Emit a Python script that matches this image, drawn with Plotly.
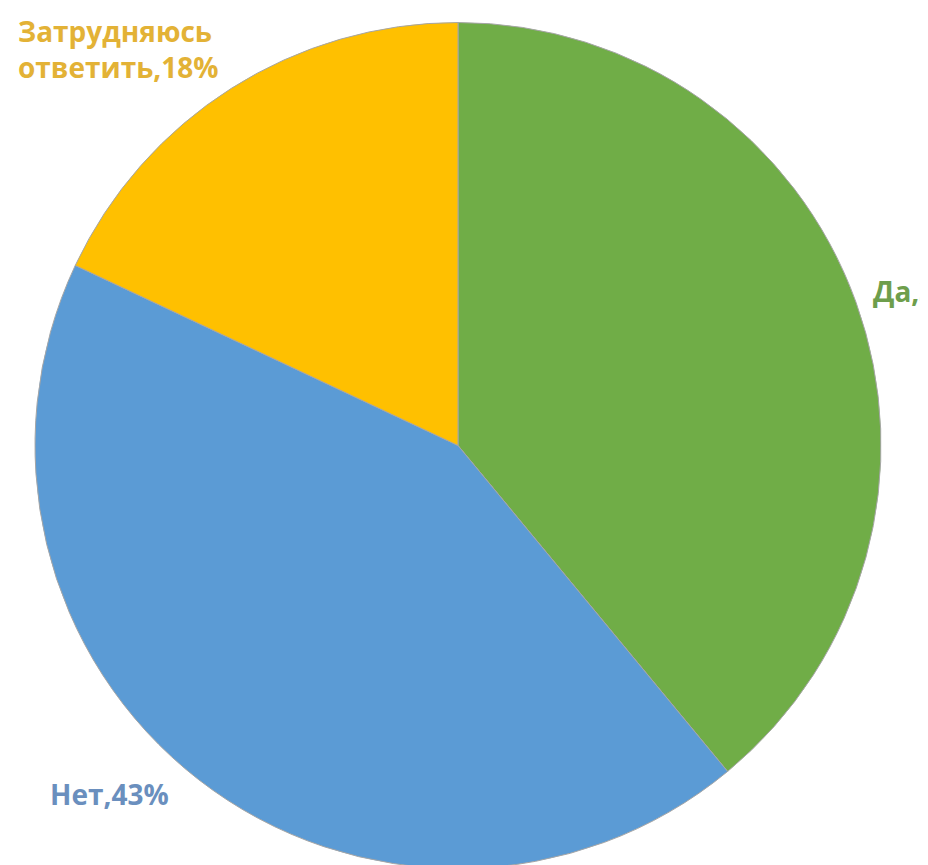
import plotly.graph_objects as go

labels = ["Да", "Нет", "Затрудняюсь ответить"]
values = [39, 43, 18]
colors = ["#70AD47", "#5B9BD5", "#FFC000"]
label_texts = ["Да,39%", "Нет,43%", "Затрудняюсь<br>ответить,18%"]
label_colors = ["#6E9E4C", "#6A8FBE", "#E3B236"]

W, H = 928, 865
ML, MR, MT, MB = 27, 55, 10, 0
PW, PH = W - ML - MR, H - MT - MB

def px(x, y):
    return (x - ML) / PW, 1 - (y - MT) / PH

fig = go.Figure(go.Pie(
    labels=labels, values=values, sort=False, direction="clockwise", rotation=0,
    marker=dict(colors=colors, line=dict(color="#A6A6A6", width=1)),
    textinfo="none", hoverinfo="label+percent", showlegend=False,
))

label_pos = [(863, 283), (40, 786), (8, 41)]
anns = []
for t, c, (x, y) in zip(label_texts, label_colors, label_pos):
    ax, ay = px(x, y)
    anns.append(dict(text=t, x=ax, y=ay, xref="paper", yref="paper", xanchor="left", yanchor="middle",
                     align="left", showarrow=False,
                     font=dict(family="Open Sans", size=28, color=c, weight="bold")))

fig.update_layout(width=W, height=H, margin=dict(l=ML, r=MR, t=MT, b=MB),
                  paper_bgcolor="white", plot_bgcolor="white", annotations=anns)
fig.write_html("out.html")
